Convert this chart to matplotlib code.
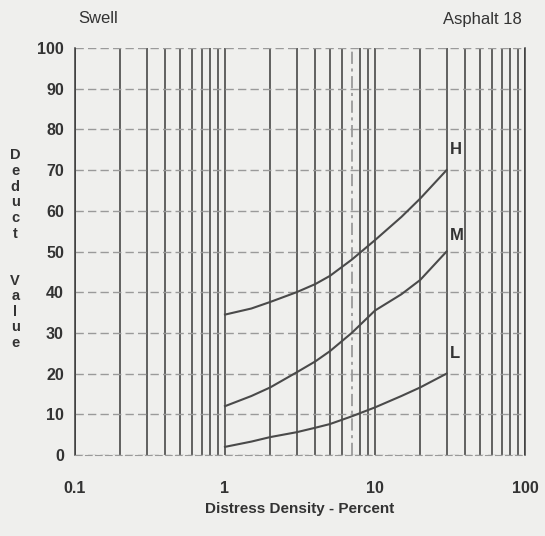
import matplotlib
matplotlib.use("Agg")
import matplotlib.pyplot as plt
from matplotlib.ticker import FixedLocator, NullFormatter

plt.rcParams['font.family'] = ['Liberation Sans Narrow', 'Liberation Sans', 'DejaVu Sans']

# distress density (percent) and deduct values
density = [1, 1.5, 2, 3, 4, 5, 7, 10, 15, 20, 30]
high = [34.5, 36, 37.6, 40, 42, 44, 48, 52.8, 58.5, 63, 70]
medium = [12, 14.5, 16.6, 20.3, 23, 25.5, 30, 35.5, 39.5, 43, 50]
low = [2, 3.3, 4.4, 5.6, 6.7, 7.6, 9.5, 11.7, 14.5, 16.6, 20]
curve_names = ['H', 'M', 'L']
label_values = [75, 54, 25]

x_major = [0.1, 1, 10, 100]
x_major_labels = ['0.1', '1', '10', '100']
x_minor = [m * d for d in (0.1, 1, 10) for m in range(2, 10)]
y_ticks = list(range(0, 101, 10))

bg = '#efefed'
ink = '#333333'
fig = plt.figure(figsize=(5.45, 5.36), dpi=100, facecolor=bg)
ax = fig.add_axes([0.1376, 0.1511, 0.8257, 0.7593], facecolor=bg)

ax.set_xscale('log')
ax.set_xlim(0.1, 100)
ax.set_ylim(0, 100)

ax.xaxis.set_major_locator(FixedLocator(x_major))
ax.xaxis.set_minor_locator(FixedLocator(x_minor))
ax.xaxis.set_minor_formatter(NullFormatter())
ax.set_xticks(x_major, x_major_labels)
ax.set_yticks(y_ticks)

ax.grid(True, axis='x', which='both', color='#3a3a3a', lw=1.1)
ax.grid(True, axis='y', which='major', color='#9a9a9a', lw=1, ls=(0, (6, 3)))
# the line at 7 percent is printed as a faint dash-dot line
for tick, loc in zip(ax.xaxis.get_minor_ticks(), x_minor):
    if abs(loc - 7) < 1e-9:
        tick.gridline.set_linestyle((0, (8, 3, 2, 3)))
        tick.gridline.set_color('#8a8a8a')

ax.tick_params(which='both', length=0, labelsize=11.5)
ax.tick_params(axis='x', pad=19)
ax.tick_params(axis='y', pad=8)
for lbl in ax.get_xticklabels() + ax.get_yticklabels():
    lbl.set_fontweight('bold')
    lbl.set_color(ink)

for side in ('left', 'right'):
    ax.spines[side].set_color('#3a3a3a')
    ax.spines[side].set_linewidth(1.1)
ax.spines['top'].set_visible(False)
ax.spines['bottom'].set_color('#9a9a9a')
ax.spines['bottom'].set_linestyle((0, (6, 3)))

for vals, name, yl in zip([high, medium, low], curve_names, label_values):
    ax.plot(density, vals, color='#4a4a4a', lw=1.5)
    ax.text(density[-1] * 1.045, yl, name, fontsize=12,
            fontweight='bold', color=ink, va='center', ha='left')

ax.set_xlabel('Distress Density - Percent', fontsize=11, fontweight='bold',
              color=ink, labelpad=4)
fig.text(0.028, 0.535, '\n'.join('Deduct  Value'), fontsize=10.5,
         fontweight='bold', color=ink, ha='center', va='center',
         linespacing=1.15)
fig.text(0.143, 0.966, 'Swell', fontsize=12, color=ink, ha='left', va='center')
fig.text(0.958, 0.963, 'Asphalt 18', fontsize=12, color=ink, ha='right', va='center')

fig.savefig('out.png', dpi=100, facecolor=bg)
